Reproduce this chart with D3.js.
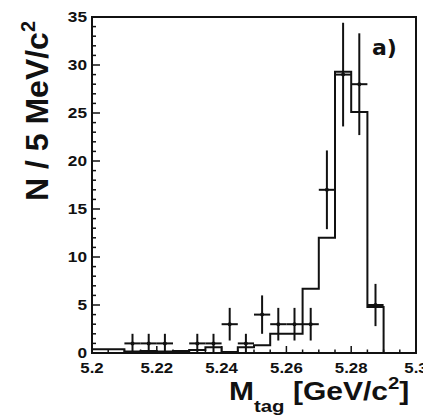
<!DOCTYPE html>
<html>
<head>
<meta charset="utf-8">
<script src="https://cdn.jsdelivr.net/npm/d3@7"></script>
<style>
  body { margin: 0; background: #fff; }
  svg text { font-family: Arial, "Liberation Sans", sans-serif; font-weight: bold; fill: #111; }
</style>
</head>
<body>
<div id="chart"></div>
<script>
// histogram bins (lower edges, 5 MeV wide) and fit/MC contents
var binEdges = [5.200, 5.205, 5.210, 5.215, 5.220, 5.225, 5.230, 5.235, 5.240, 5.245,
                5.250, 5.255, 5.260, 5.265, 5.270, 5.275, 5.280, 5.285, 5.290, 5.295];
var histValues = [0.4, 0.4, 0.15, 0.2, 0.15, 0.2, 0.3, 0.6, 0.1, 0.6,
                  0.8, 2.0, 2.0, 6.7, 12.0, 29.3, 25.1, 4.8, 0, 0];

// data points (bin centres), counts and errors
var dataX = [5.2125, 5.2175, 5.2225, 5.2325, 5.2375, 5.2425, 5.2475, 5.2525,
             5.2575, 5.2625, 5.2675, 5.2725, 5.2775, 5.2825, 5.2875];
var dataY = [1, 1, 1, 1, 1, 3, 1, 4, 3, 3, 3, 17, 29, 28, 5];
var dataErr = [1, 1, 1, 1, 1, 1.7, 1, 2, 1.7, 1.7, 1.7, 4.1, 5.4, 5.3, 2.2];

var xTicks = [5.2, 5.22, 5.24, 5.26, 5.28, 5.3];
var yTicks = [0, 5, 10, 15, 20, 25, 30, 35];
var binWidth = 0.005;

var W = 423, H = 419;
var margin = { top: 17, right: 7, bottom: 66, left: 92 };

var svg = d3.select("#chart").append("svg")
  .attr("width", W).attr("height", H);

var x = d3.scaleLinear().domain([5.2, 5.3]).range([margin.left, W - margin.right]);
var y = d3.scaleLinear().domain([0, 35]).range([H - margin.bottom, margin.top]);

// minor ticks
var xMinor = d3.range(0, 21).map(function (i) { return 5.2 + i * 0.005; });
var yMinor = d3.range(0, 36);

svg.append("g").selectAll("line").data(yMinor).join("line")
  .attr("x1", x(5.2)).attr("x2", function (d) { return x(5.2) + (d % 5 === 0 ? 8 : 4); })
  .attr("y1", function (d) { return y(d); }).attr("y2", function (d) { return y(d); })
  .attr("stroke", "#111").attr("stroke-width", 1.5);

svg.append("g").selectAll("line").data(xMinor).join("line")
  .attr("x1", function (d) { return x(d); }).attr("x2", function (d) { return x(d); })
  .attr("y1", y(0)).attr("y2", function (d, i) { return y(0) - (i % 4 === 0 ? 7 : 3.5); })
  .attr("stroke", "#111").attr("stroke-width", 1.5);

// tick labels (the original is a bit wide, so stretch horizontally)
svg.append("g").selectAll("text").data(yTicks).join("text")
  .attr("transform", function (d) { return "translate(" + (x(5.2) - 5) + "," + (y(d) + 5) + ") scale(1.15,1)"; })
  .attr("text-anchor", "end").style("font-size", "15px")
  .text(function (d) { return d; });

svg.append("g").selectAll("text").data(xTicks).join("text")
  .attr("transform", function (d) { return "translate(" + x(d) + "," + (y(0) + 20) + ") scale(1.12,1)"; })
  .attr("text-anchor", "middle").style("font-size", "15px")
  .text(function (d) { return d3.format("")(d); });

// histogram outline
var steps = binEdges.map(function (e, i) { return [e, histValues[i]]; });
steps.push([5.3, 0]);
var line = d3.line()
  .x(function (d) { return x(d[0]); })
  .y(function (d) { return y(d[1]); })
  .curve(d3.curveStepAfter);
svg.append("path").datum(steps)
  .attr("d", line)
  .attr("fill", "none").attr("stroke", "#111").attr("stroke-width", 2);

// data points with error bars
var pts = svg.append("g").selectAll("g").data(dataX).join("g");
pts.append("line")
  .attr("x1", function (d) { return x(d - binWidth / 2); })
  .attr("x2", function (d) { return x(d + binWidth / 2); })
  .attr("y1", function (d, i) { return y(dataY[i]); })
  .attr("y2", function (d, i) { return y(dataY[i]); })
  .attr("stroke", "#111").attr("stroke-width", 2);
pts.append("line")
  .attr("x1", function (d) { return x(d); })
  .attr("x2", function (d) { return x(d); })
  .attr("y1", function (d, i) { return y(Math.max(0, dataY[i] - dataErr[i])); })
  .attr("y2", function (d, i) { return y(dataY[i] + dataErr[i]); })
  .attr("stroke", "#111").attr("stroke-width", 2);
pts.append("circle")
  .attr("cx", function (d) { return x(d); })
  .attr("cy", function (d, i) { return y(dataY[i]); })
  .attr("r", 2).attr("fill", "#111");

// frame
svg.append("rect")
  .attr("x", x(5.2)).attr("y", y(35))
  .attr("width", x(5.3) - x(5.2)).attr("height", y(0) - y(35))
  .attr("fill", "none").attr("stroke", "#111").attr("stroke-width", 2);

// panel label
svg.append("text")
  .attr("x", 372).attr("y", 55)
  .style("font-family", "'DejaVu Sans', sans-serif")
  .style("font-size", "22px")
  .text("a)");

// y axis title
var yt = svg.append("text")
  .attr("transform", "translate(48,111) rotate(-90)")
  .attr("text-anchor", "middle")
  .style("font-size", "32px");
yt.append("tspan").text("N / 5 MeV/c");
yt.append("tspan").attr("dy", -13).style("font-size", "20px").text("2");

// x axis title
var xt = svg.append("text")
  .attr("transform", "translate(229,400) scale(1.2,1)")
  .style("font-size", "25px");
xt.append("tspan").text("M");
xt.append("tspan").attr("dy", 12).style("font-size", "17px").text("tag");
xt.append("tspan").attr("dy", -12).text(" [GeV/c");
xt.append("tspan").attr("dy", -11).style("font-size", "17px").text("2");
xt.append("tspan").attr("dy", 11).text("]");
</script>
</body>
</html>
